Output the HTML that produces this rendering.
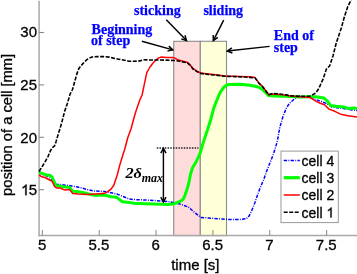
<!DOCTYPE html>
<html><head><meta charset="utf-8"><style>
html,body{margin:0;padding:0;background:#fff;overflow:hidden}
svg{display:block;will-change:transform}
.s{font-family:"Liberation Sans",sans-serif;font-size:14px;fill:#000;stroke:#000;stroke-width:0.3px}
.t{font-size:15px}
.b{font-family:"Liberation Serif",serif;font-weight:bold;font-size:14px;fill:#0000ff;stroke:#0000ff;stroke-width:0.25px}
</style></head><body>
<svg width="357" height="274" viewBox="0 0 357 274">
<rect x="173.7" y="41.3" width="26.6" height="194.3" fill="#ffdcdc" stroke="#8c8c8c" stroke-width="1.1"/>
<rect x="200.3" y="41.3" width="26.2" height="194.3" fill="#ffffd8" stroke="#8c8c8c" stroke-width="1.1"/>
<g stroke="#a8a8a8" stroke-width="1.5" fill="none">
<line x1="39.1" y1="0.8" x2="39.1" y2="236.3"/>
<line x1="38.35" y1="235.6" x2="357" y2="235.6"/>
<line x1="42.40" y1="235.6" x2="42.40" y2="230" stroke-width="1.1" stroke="#909090"/><line x1="99.24" y1="235.6" x2="99.24" y2="230" stroke-width="1.1" stroke="#909090"/><line x1="156.08" y1="235.6" x2="156.08" y2="230" stroke-width="1.1" stroke="#909090"/><line x1="212.92" y1="235.6" x2="212.92" y2="230" stroke-width="1.1" stroke="#909090"/><line x1="269.76" y1="235.6" x2="269.76" y2="230" stroke-width="1.1" stroke="#909090"/><line x1="326.60" y1="235.6" x2="326.60" y2="230" stroke-width="1.1" stroke="#909090"/><line x1="39" y1="32.5" x2="44.1" y2="32.5" stroke-width="1.1" stroke="#888"/><line x1="39" y1="84.9" x2="44.1" y2="84.9" stroke-width="1.1" stroke="#888"/><line x1="39" y1="137.3" x2="44.1" y2="137.3" stroke-width="1.1" stroke="#888"/><line x1="39" y1="189.7" x2="44.1" y2="189.7" stroke-width="1.1" stroke="#888"/>
</g>
<g class="s"><text class="t" x="42.10" y="249.8" text-anchor="middle">5</text><text class="t" x="98.94" y="249.8" text-anchor="middle">5.5</text><text class="t" x="155.78" y="249.8" text-anchor="middle">6</text><text class="t" x="212.62" y="249.8" text-anchor="middle">6.5</text><text class="t" x="269.46" y="249.8" text-anchor="middle">7</text><text class="t" x="326.30" y="249.8" text-anchor="middle">7.5</text><text class="t" x="37.0" y="37.2" text-anchor="end">30</text><text class="t" x="37.0" y="90.2" text-anchor="end">25</text><text class="t" x="37.0" y="142.7" text-anchor="end">20</text><text class="t" x="37.0" y="195.2" text-anchor="end">5</text><path d="M763 0H583V1147Q518 1085 412.5 1023T223 930V1104Q374 1175 487 1276T647 1472H763Z" transform="translate(21.02,195.2) scale(0.00732,-0.00732)" fill="#000" stroke="#000" stroke-width="41.0"/>
<text class="t" x="171.2" y="269.8">time [s]</text>
<text class="t" style="font-size:14.7px" transform="translate(11.6,195.9) rotate(-90)">position of a cell [mm]</text>
</g>
<g fill="none" stroke-linejoin="round">
<polyline points="39.0,172.0 41.2,173.9 45.7,175.5 50.0,178.5 55.9,184.2 60.3,184.5 68.0,185.4 69.5,185.6 76.2,186.8 81.8,187.9 87.4,189.6 94.1,191.0 100.0,191.2 104.5,191.5 111.2,192.8 116.8,194.0 122.4,196.2 129.1,199.0 134.7,199.6 140.0,199.7 156.0,200.6 170.0,201.8 179.1,203.8 188.4,207.0 195.4,213.2 201.0,217.4 213.6,218.4 227.6,219.4 241.6,219.4 246.6,218.5 249.0,216.1 251.5,211.1 254.8,203.0 257.2,196.0 259.7,189.0 262.1,183.3 263.8,179.5 266.7,171.0 269.8,163.3 272.9,155.5 275.4,147.8 277.6,140.0 279.7,127.9 283.0,116.4 286.3,108.2 289.5,103.2 294.5,98.9 299.5,95.8 301.1,96.4 310.0,97.4 318.8,100.6 326.1,103.4 331.9,107.0 342.1,108.3 353.8,110.3 357.0,110.5" stroke="#0000ff" stroke-width="1.5" stroke-dasharray="3.4,1.3,0.9,1.3"/>
<polyline points="39.0,172.2 43.1,173.9 47.6,175.2 50.1,175.2 52.0,177.1 54.6,182.9 55.9,186.0 59.7,186.0 63.5,186.7 68.0,187.3 69.5,187.5 72.8,191.2 78.4,191.8 85.2,192.9 90.8,194.6 96.4,195.5 100.0,195.1 106.7,195.6 111.2,196.8 116.8,197.3 120.2,200.1 122.4,201.8 129.1,202.4 133.6,203.3 144.8,203.7 162.8,204.3 168.0,204.5 173.0,204.1 176.0,203.0 180.0,201.4 183.2,199.2 185.0,195.3 186.6,190.5 188.6,184.0 190.5,174.2 192.5,167.7 195.8,162.4 198.4,157.2 200.5,152.0 203.0,143.4 205.3,136.4 207.7,129.3 210.6,120.0 213.5,109.1 216.2,101.8 218.5,96.2 220.5,91.8 223.7,87.5 226.5,85.2 229.0,84.4 240.0,84.3 250.0,85.2 255.0,86.3 258.9,87.3 262.8,89.8 265.8,92.7 268.7,95.6 274.6,96.1 290.0,96.6 300.0,96.9 310.0,96.7 315.8,96.7 323.9,98.1 327.5,101.1 330.4,105.4 336.3,106.2 343.6,106.9 348.0,108.4 353.8,108.1 357.0,108.4" stroke="#00ff00" stroke-width="3.0"/>
<polyline points="39.0,175.0 41.8,176.8 45.0,177.5 48.6,179.5 52.0,181.2 54.6,186.5 56.5,188.0 60.3,188.0 62.9,189.3 64.8,189.9 69.5,189.6 72.8,193.5 78.4,194.0 87.4,194.6 96.4,194.0 102.3,193.5 104.5,193.4 107.8,191.7 111.2,188.9 113.8,185.2 117.3,174.7 119.7,165.4 123.2,153.7 124.8,149.0 127.9,137.3 131.0,129.0 133.4,120.0 135.2,113.5 137.0,108.0 139.7,100.2 142.1,95.0 144.6,82.8 146.8,72.6 149.7,67.5 152.6,63.5 155.6,60.3 158.4,58.1 160.9,57.1 166.8,57.4 172.7,57.4 175.2,58.4 178.6,60.1 182.8,61.2 187.2,62.3 190.0,64.8 192.8,68.3 197.0,71.1 200.5,72.9 208.2,73.9 218.0,75.0 225.0,76.0 240.0,76.4 250.0,76.7 255.0,77.6 258.9,82.9 262.8,86.8 265.8,90.7 268.7,94.7 272.6,93.9 279.5,94.4 286.4,95.2 290.0,96.1 300.0,96.7 310.0,97.4 315.8,101.1 320.2,103.2 324.6,104.7 329.0,109.1 334.8,111.3 340.7,114.2 348.0,115.7 357.0,117.1" stroke="#ff0000" stroke-width="1.5"/>
<polyline points="39.0,171.5 44.6,162.8 47.9,156.8 50.3,151.0 52.0,147.8 54.4,146.2 56.1,141.5 58.6,133.0 60.2,128.0 62.0,121.6 64.6,111.5 67.4,103.3 70.1,94.1 72.5,89.5 74.6,82.0 76.8,74.1 78.9,68.4 82.6,63.9 87.0,59.5 91.4,57.1 97.2,56.6 103.4,56.6 109.0,57.1 113.2,58.1 118.8,59.2 124.4,60.3 128.6,61.2 134.2,61.3 139.8,60.9 143.5,59.8 152.0,60.0 166.0,60.1 174.4,60.5 180.0,61.2 185.6,62.5 188.0,63.3 190.5,65.6 193.0,69.0 197.0,71.6 200.5,73.4 208.2,74.4 218.0,75.4 225.0,76.3 235.1,76.6 245.2,77.0 255.0,77.9 258.9,83.2 262.8,87.0 265.8,91.0 268.7,94.7 272.6,93.4 279.5,94.0 286.4,94.9 290.0,95.7 300.0,96.4 310.0,96.1 312.0,95.1 315.8,93.0 318.8,88.6 321.0,83.5 323.2,78.9 326.4,69.1 329.7,65.8 333.0,55.9 336.3,42.8 341.3,28.0 344.5,16.4 347.8,6.6 351.1,0.0 352.0,-3.0" stroke="#000" stroke-width="1.6" stroke-dasharray="4,1.5"/>
</g>
<line x1="156.8" y1="148" x2="198.5" y2="148" stroke="#222" stroke-width="1.3" stroke-dasharray="1.5,1.2"/>
<g stroke="#000" stroke-width="1.45" fill="none">
<line x1="166.3" y1="19.8" x2="186.5" y2="40.6"/><polyline points="181.26,38.92 186.5,40.6 184.97,35.32"/>
<line x1="223.7" y1="20.2" x2="213.3" y2="40.6"/><polyline points="213.21,35.10 213.3,40.6 217.81,37.45"/>
<line x1="141.9" y1="41.3" x2="172.8" y2="49.9"/><polyline points="167.43,51.09 172.8,49.9 168.81,46.11"/>
<line x1="269.6" y1="46.4" x2="227.3" y2="51"/><polyline points="231.85,47.91 227.3,51 232.41,53.04"/>
<line x1="163.4" y1="148.3" x2="163.4" y2="201.9"/><polyline points="160.82,197.04 163.4,201.9 165.98,197.04"/><polyline points="165.98,153.16 163.4,148.3 160.82,153.16"/>
</g>
<g class="b">
<text x="91.6" y="33.7">Beginning</text>
<text x="91.0" y="45.2">of step</text>
<text x="134.0" y="15.0">sticking</text>
<text x="203.4" y="14.6">sliding</text>
<text x="273.8" y="40.2">End of</text>
<text x="273.8" y="52.2">step</text>
</g>
<g font-family="Liberation Serif" font-style="italic" font-weight="bold" fill="#000">
<text transform="translate(125.4,178.0) scale(1.02,0.94)" font-size="16">2δ</text>
<text x="141.7" y="181.7" font-size="12">max</text>
</g>
<rect x="281" y="151.1" width="57.3" height="71.5" fill="#fff" stroke="#999" stroke-width="1"/>
<g fill="none">
<line x1="283.7" y1="160.4" x2="299.8" y2="160.4" stroke="#0000ff" stroke-width="1.5" stroke-dasharray="3.4,1.3,0.9,1.3"/>
<line x1="283.7" y1="177.7" x2="299.8" y2="177.7" stroke="#00ff00" stroke-width="3.2"/>
<line x1="283.7" y1="195" x2="299.8" y2="195" stroke="#ff0000" stroke-width="1.5"/>
<line x1="283.7" y1="212.3" x2="299.8" y2="212.3" stroke="#000" stroke-width="1.6" stroke-dasharray="4,1.5"/>
</g>
<g class="s">
<text x="301.5" y="165.6">cell 4</text>
<text x="301.5" y="182.9">cell 3</text>
<text x="301.5" y="200.2">cell 2</text>
<text x="301.5" y="217.5">cell</text>
</g><path d="M763 0H583V1147Q518 1085 412.5 1023T223 930V1104Q374 1175 487 1276T647 1472H763Z" transform="translate(326.40,217.5) scale(0.00684,-0.00684)" fill="#000" stroke="#000" stroke-width="43.9"/><g class="s">
</g>
</svg>
</body></html>
